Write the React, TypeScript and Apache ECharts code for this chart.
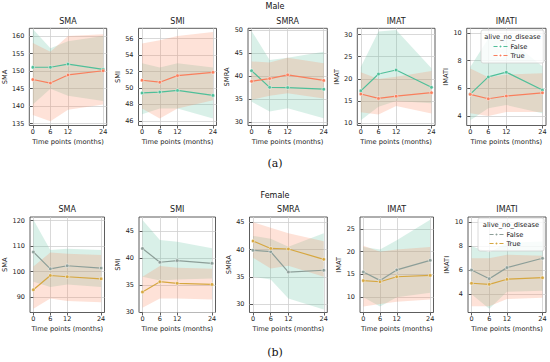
import React, { useEffect, useRef } from "react";
import * as echarts from "echarts";

// ---------- data ----------
const timePoints = [0, 6, 12, 24];
const metrics = ["SMA", "SMI", "SMRA", "IMAT", "IMATI"];
const legendTitle = "alive_no_disease";
const groupNames = ["False", "True"];

// Male
const maleFalseMean: Record<string, number[]> = {
  SMA: [151.1, 151.1, 152.0, 150.5],
  SMI: [49.4, 49.5, 49.7, 49.1],
  SMRA: [41.2, 37.6, 37.55, 37.2],
  IMAT: [17.3, 21.1, 22.0, 18.1],
  IMATI: [5.59, 6.83, 7.17, 5.88],
};
const maleFalseLow: Record<string, number[]> = {
  SMA: [140.5, 145, 143, 141.5],
  SMI: [46.8, 47.5, 47.5, 46.3],
  SMRA: [34.5, 32.4, 33.1, 30.9],
  IMAT: [10.7, 13.7, 15, 14.5],
  IMATI: [3.7, 4.56, 4.8, 4.2],
};
const maleFalseHigh: Record<string, number[]> = {
  SMA: [162, 156.5, 158.5, 160],
  SMI: [53, 52.5, 53, 52.5],
  SMRA: [49.8, 43.5, 44, 45.3],
  IMAT: [22.7, 30.7, 31, 22.4],
  IMATI: [7.55, 9.6, 9.7, 7.6],
};
const maleTrueMean: Record<string, number[]> = {
  SMA: [147.6, 146.6, 148.9, 150.1],
  SMI: [50.94, 50.7, 51.5, 51.9],
  SMRA: [38.9, 39.5, 40.3, 39.1],
  IMAT: [16.6, 15.6, 16.1, 16.9],
  IMATI: [5.57, 5.25, 5.45, 5.68],
};
const maleTrueLow: Record<string, number[]> = {
  SMA: [137.5, 135.7, 139, 140.5],
  SMI: [47.5, 46.3, 47.5, 48.5],
  SMRA: [34.9, 35.8, 36.3, 35.2],
  IMAT: [12.5, 12, 13.9, 12.2],
  IMATI: [4.2, 4.0, 4.3, 4.3],
};
const maleTrueHigh: Record<string, number[]> = {
  SMA: [158, 155.5, 160, 160.5],
  SMI: [55.4, 55.8, 56.3, 56.8],
  SMRA: [43.2, 43, 44, 42.8],
  IMAT: [21.5, 20, 20.5, 21.8],
  IMATI: [7.44, 6.8, 7.0, 7.1],
};

// Female
const femaleFalseMean: Record<string, number[]> = {
  SMA: [107.7, 101.1, 102.3, 101.4],
  SMI: [41.75, 39.2, 39.5, 39.0],
  SMRA: [39.85, 39.6, 35.86, 36.2],
  IMAT: [15.56, 13.7, 16.0, 18.1],
  IMATI: [6.02, 5.3, 6.22, 7.0],
};
const femaleFalseLow: Record<string, number[]> = {
  SMA: [96, 94, 95, 94],
  SMI: [36.5, 35.8, 36, 36.2],
  SMRA: [35, 34.5, 31, 29],
  IMAT: [10, 8, 10, 11],
  IMATI: [4, 2.8, 4.2, 4.3],
};
const femaleFalseHigh: Record<string, number[]> = {
  SMA: [120.3, 108.5, 109, 108.5],
  SMI: [47, 43.3, 43, 41.8],
  SMRA: [42.5, 42, 40.5, 43],
  IMAT: [21, 20.5, 22.5, 27],
  IMATI: [8, 7.5, 8.3, 8.4],
};
const femaleTrueMean: Record<string, number[]> = {
  SMA: [92.9, 98.5, 98, 97.2],
  SMI: [33.7, 35.6, 35.3, 35.1],
  SMRA: [41.56, 40.2, 40.1, 38.2],
  IMAT: [13.65, 13.4, 14.5, 14.8],
  IMATI: [4.92, 4.83, 5.25, 5.38],
};
const femaleTrueLow: Record<string, number[]> = {
  SMA: [85.5, 89.5, 88.5, 88],
  SMI: [30.8, 32.5, 32.5, 32.3],
  SMRA: [38.5, 36.5, 37, 35],
  IMAT: [8, 8.5, 9, 9.5],
  IMATI: [3, 3, 3.6, 3.7],
};
const femaleTrueHigh: Record<string, number[]> = {
  SMA: [102, 107.5, 107, 106.5],
  SMI: [36.5, 38.5, 38.2, 38],
  SMRA: [45, 44, 43, 41.5],
  IMAT: [21.3, 20, 20.5, 21],
  IMATI: [7, 7, 7.3, 7.2],
};

// axis ticks / limits
const maleYTicks: Record<string, number[]> = {
  SMA: [135, 140, 145, 150, 155, 160],
  SMI: [46, 48, 50, 52, 54, 56],
  SMRA: [30, 35, 40, 45, 50],
  IMAT: [10, 15, 20, 25, 30],
  IMATI: [4, 6, 8, 10],
};
const femaleYTicks: Record<string, number[]> = {
  SMA: [90, 100, 110, 120],
  SMI: [30, 35, 40, 45],
  SMRA: [30, 35, 40, 45],
  IMAT: [10, 15, 20, 25],
  IMATI: [4, 6, 8, 10],
};
const maleYRange: Record<string, number[]> = {
  SMA: [134.5, 162.2],
  SMI: [45.44, 57.25],
  SMRA: [29.35, 50.37],
  IMAT: [9.5, 31.4],
  IMATI: [3.32, 10.34],
};
const femaleYRange: Record<string, number[]> = {
  SMA: [84.0, 121.4],
  SMI: [29.9, 47.57],
  SMRA: [28.44, 45.97],
  IMAT: [6.66, 27.6],
  IMATI: [2.48, 10.44],
};
const xRange = [-1.2, 25.2];

// ---------- layout / style ----------
const FONT = "DejaVu Sans";
const bandColors = ["#66c2a5", "#fc8d62"];
const maleLineColors = ["#4fbf99", "#f97e5c"];
const femaleLineColors = ["#8c9e98", "#d6a740"];

const topRow = { top: 28.3, height: 97.2 };
const bottomRow = { top: 217, height: 95.5 };
const topCols = [
  [29.3, 77.4],
  [138.5, 78],
  [248, 79.3],
  [357.3, 77.7],
  [466.7, 79.3],
];
const bottomCols = [
  [30, 74.5],
  [139, 76.5],
  [249.5, 77.8],
  [360, 73.5],
  [468, 78],
];
const topNameGaps = [18.5, 16.5, 14, 17, 15.5];
const bottomNameGaps = [19, 14, 14, 12.5, 13];

export default function App() {
  const ref = useRef<HTMLDivElement>(null);

  useEffect(() => {
    if (!ref.current) return;
    const chart = echarts.init(ref.current, undefined, { renderer: "svg" });

    const grids: any[] = [];
    const xAxes: any[] = [];
    const yAxes: any[] = [];
    const series: any[] = [];
    const graphics: any[] = [];

    const rows = [
      {
        row: topRow,
        cols: topCols,
        gaps: topNameGaps,
        yTicks: maleYTicks,
        yRange: maleYRange,
        colors: maleLineColors,
        groups: [
          [maleFalseMean, maleFalseLow, maleFalseHigh],
          [maleTrueMean, maleTrueLow, maleTrueHigh],
        ],
        titleY: 21,
      },
      {
        row: bottomRow,
        cols: bottomCols,
        gaps: bottomNameGaps,
        yTicks: femaleYTicks,
        yRange: femaleYRange,
        colors: femaleLineColors,
        groups: [
          [femaleFalseMean, femaleFalseLow, femaleFalseHigh],
          [femaleTrueMean, femaleTrueLow, femaleTrueHigh],
        ],
        titleY: 209,
      },
    ];

    let idx = 0;
    rows.forEach((r) => {
      metrics.forEach((m, c) => {
        const [left, width] = r.cols[c];
        grids.push({
          left,
          top: r.row.top,
          width,
          height: r.row.height,
          show: true,
          borderColor: "#333",
          borderWidth: 0.8,
          backgroundColor: "#fff",
        });
        xAxes.push({
          type: "value",
          gridIndex: idx,
          min: xRange[0],
          max: xRange[1],
          name: "Time points (months)",
          nameLocation: "middle",
          nameGap: 13,
          nameTextStyle: { fontFamily: FONT, fontSize: 6.7, color: "#222" },
          axisLine: { show: false },
          axisTick: {
            show: true,
            length: 3,
            customValues: timePoints,
            lineStyle: { color: "#333", width: 0.8 },
          },
          axisLabel: {
            customValues: timePoints,
            margin: 3,
            fontFamily: FONT,
            fontSize: 6.5,
            color: "#222",
          },
          splitLine: { show: true, lineStyle: { color: "#cfcfcf", width: 0.8 } },
        });
        yAxes.push({
          type: "value",
          gridIndex: idx,
          min: r.yRange[m][0],
          max: r.yRange[m][1],
          name: m,
          nameLocation: "middle",
          nameGap: r.gaps[c],
          nameTextStyle: { fontFamily: FONT, fontSize: 6.7, color: "#222" },
          axisLine: { show: false },
          axisTick: {
            show: true,
            length: 3,
            customValues: r.yTicks[m],
            lineStyle: { color: "#333", width: 0.8 },
          },
          axisLabel: {
            customValues: r.yTicks[m],
            margin: 5,
            fontFamily: FONT,
            fontSize: 6.5,
            color: "#222",
          },
          splitLine: { show: true, lineStyle: { color: "#cfcfcf", width: 0.8 } },
        });

        r.groups.forEach((g, gi) => {
          const [, low, high] = g;
          const bandData = timePoints.map((t, k) => [t, low[m][k], high[m][k]]);
          series.push({
            type: "custom",
            xAxisIndex: idx,
            yAxisIndex: idx,
            silent: true,
            z: 1,
            encode: { x: 0, y: [1, 2] },
            data: bandData,
            renderItem: (params: any, api: any) => {
              if (params.dataIndex !== 0) return null;
              const upper = bandData.map((d) => api.coord([d[0], d[2]]));
              const lower = bandData.map((d) => api.coord([d[0], d[1]])).reverse();
              return {
                type: "polygon",
                shape: { points: upper.concat(lower) },
                style: { fill: bandColors[gi], opacity: 0.25 },
              };
            },
          });
        });
        r.groups.forEach((g, gi) => {
          const [mean] = g;
          series.push({
            type: "line",
            name: groupNames[gi],
            xAxisIndex: idx,
            yAxisIndex: idx,
            symbol: "circle",
            symbolSize: 3.5,
            lineStyle: { color: r.colors[gi], width: 1.2 },
            itemStyle: { color: r.colors[gi], borderColor: "#fff", borderWidth: 0.5 },
            data: timePoints.map((t, k) => [t, mean[m][k]]),
            z: 3,
          });
        });

        graphics.push({
          type: "text",
          x: left + width / 2,
          y: r.titleY,
          style: {
            text: m,
            fontFamily: FONT,
            fontSize: 8,
            fill: "#222",
            align: "center",
            verticalAlign: "middle",
          },
        });
        idx++;
      });
    });

    const sup = [
      { text: "Male", y: 6.5, serif: false, size: 8 },
      { text: "(a)", y: 163, serif: true, size: 11 },
      { text: "Female", y: 195, serif: false, size: 8 },
      { text: "(b)", y: 352.5, serif: true, size: 11 },
    ];
    sup.forEach((s) => {
      graphics.push({
        type: "text",
        x: 275,
        y: s.y,
        style: {
          text: s.text,
          fontFamily: s.serif ? "DejaVu Serif" : FONT,
          fontSize: s.size,
          fill: "#111",
          align: "center",
          verticalAlign: "middle",
        },
      });
    });

    // legend boxes
    const legendBoxes = [
      { x: 481, y: 30, w: 63, h: 33, ty: 37 },
      { x: 478, y: 218, w: 66, h: 33, ty: 225 },
    ];
    legendBoxes.forEach((b) => {
      graphics.push({
        type: "rect",
        z: 15,
        shape: { x: b.x, y: b.y, width: b.w, height: b.h, r: 2 },
        style: { fill: "rgba(255,255,255,0.8)", stroke: "#d0d0d0", lineWidth: 0.8 },
      });
      graphics.push({
        type: "text",
        z: 16,
        x: b.x + b.w / 2,
        y: b.ty,
        style: {
          text: legendTitle,
          fontFamily: FONT,
          fontSize: 6.7,
          fill: "#222",
          align: "center",
          verticalAlign: "middle",
        },
      });
    });

    const mkLegend = (colors: string[], left: number, top: number) => ({
      orient: "vertical",
      left,
      top,
      z: 20,
      selectedMode: false,
      itemWidth: 14,
      itemHeight: 5,
      itemGap: 2,
      padding: 0,
      textStyle: { fontFamily: FONT, fontSize: 6.7, color: "#222", padding: [0, 0, 0, -2] },
      data: groupNames.map((n, i) => ({
        name: n,
        itemStyle: { color: colors[i] },
        lineStyle: { color: colors[i], width: 1 },
      })),
    });

    chart.setOption({
      animation: false,
      backgroundColor: "#fff",
      grid: grids,
      xAxis: xAxes,
      yAxis: yAxes,
      series,
      legend: [mkLegend(maleLineColors, 493, 43), mkLegend(femaleLineColors, 489, 231)],
      graphic: graphics,
    });

    return () => chart.dispose();
  }, []);

  return (
    <div
      ref={ref}
      style={{ position: "absolute", left: 0, top: 0, width: 550, height: 362 }}
    />
  );
}
